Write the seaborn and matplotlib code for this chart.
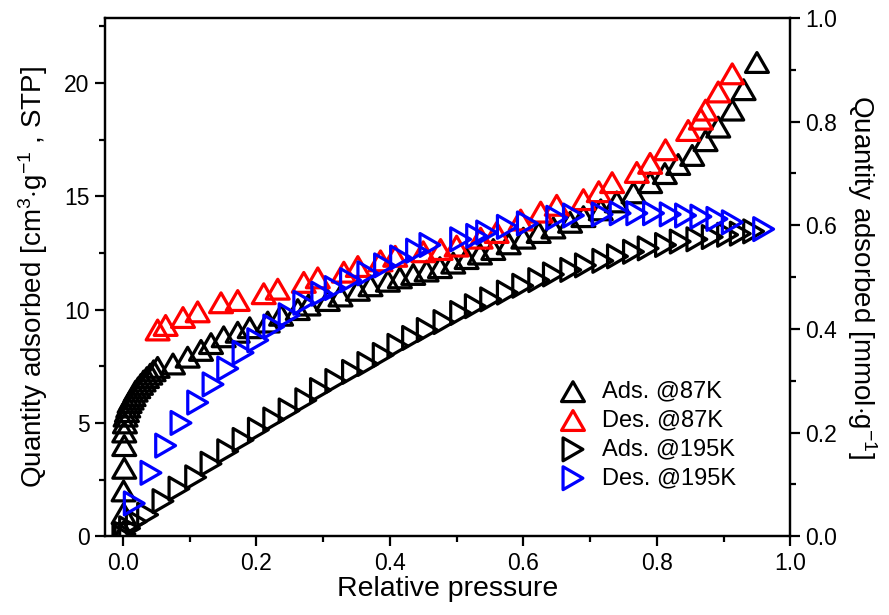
import matplotlib
matplotlib.use("Agg")
import matplotlib.pyplot as plt
from matplotlib.path import Path
from matplotlib.ticker import MultipleLocator, FormatStrFormatter
import seaborn as sns
import pandas as pd

# ---- data ----
ads87_x = [0.001, 0.001, 0.001, 0.002, 0.002, 0.002, 0.003, 0.004, 0.006, 0.008, 0.010, 0.013, 0.016,
           0.019, 0.023, 0.027, 0.031, 0.036, 0.041, 0.046, 0.052, 0.075, 0.097, 0.117, 0.132, 0.151,
           0.172, 0.190, 0.217, 0.237, 0.262, 0.278, 0.307, 0.326, 0.352, 0.371, 0.397, 0.415, 0.435,
           0.455, 0.475, 0.495, 0.515, 0.535, 0.555, 0.578, 0.600, 0.623, 0.645, 0.670, 0.690, 0.716,
           0.740, 0.765, 0.790, 0.812, 0.832, 0.853, 0.873, 0.892, 0.913, 0.930, 0.950]
ads87_y = [0.2, 1.0, 2.0, 3.0, 4.0, 4.6, 5.0, 5.3, 5.5, 5.7, 5.9, 6.05, 6.2,
           6.4, 6.55, 6.7, 6.85, 7.0, 7.15, 7.3, 7.45, 7.6, 7.9, 8.2, 8.5, 8.8,
           9.0, 9.2, 9.45, 9.75, 10.0, 10.2, 10.4, 10.6, 10.85, 11.05, 11.25, 11.4, 11.55,
           11.7, 11.85, 12.05, 12.25, 12.45, 12.65, 12.9, 13.15, 13.4, 13.6, 13.85, 14.1, 14.4,
           14.75, 15.15, 15.6, 16.0, 16.4, 16.8, 17.45, 18.05, 18.8, 19.7, 20.9]

des87_x = [0.052, 0.064, 0.090, 0.112, 0.147, 0.172, 0.211, 0.232, 0.271, 0.292, 0.331, 0.352,
           0.386, 0.408, 0.450, 0.476, 0.500, 0.536, 0.560, 0.596, 0.626, 0.650, 0.690, 0.713,
           0.733, 0.770, 0.790, 0.813, 0.847, 0.866, 0.873, 0.892, 0.913]
des87_y = [9.1, 9.3, 9.65, 9.9, 10.3, 10.4, 10.7, 10.9, 11.2, 11.4, 11.65, 11.9,
           12.15, 12.35, 12.55, 12.65, 12.8, 13.15, 13.4, 13.95, 14.3, 14.6, 14.85, 15.2,
           15.6, 16.05, 16.45, 17.05, 17.9, 18.4, 18.8, 19.6, 20.4]

ads195_x = [0.000, 0.003, 0.010, 0.020, 0.037, 0.060, 0.084, 0.109, 0.132, 0.157, 0.180, 0.203,
            0.226, 0.249, 0.274, 0.296, 0.319, 0.344, 0.367, 0.390, 0.412, 0.434, 0.456, 0.481,
            0.506, 0.528, 0.551, 0.576, 0.599, 0.623, 0.645, 0.671, 0.693, 0.719, 0.741, 0.765,
            0.787, 0.813, 0.835, 0.860, 0.883, 0.906, 0.925, 0.945]
ads195_y = [0.0, 0.1, 0.35, 0.65, 0.95, 1.55, 2.1, 2.6, 3.2, 3.75, 4.25, 4.7,
            5.15, 5.55, 6.0, 6.45, 6.85, 7.25, 7.6, 8.0, 8.4, 8.75, 9.1, 9.45,
            9.85, 10.15, 10.45, 10.75, 11.05, 11.3, 11.55, 11.75, 11.95, 12.15, 12.35, 12.55,
            12.7, 12.85, 13.0, 13.1, 13.2, 13.3, 13.35, 13.45]

des195_x = [0.017, 0.042, 0.064, 0.087, 0.112, 0.135, 0.157, 0.180, 0.202, 0.226, 0.249, 0.271,
            0.298, 0.318, 0.341, 0.367, 0.392, 0.416, 0.440, 0.460, 0.506, 0.530, 0.545, 0.576,
            0.606, 0.650, 0.675, 0.718, 0.745, 0.770, 0.795, 0.820, 0.843, 0.866, 0.890, 0.913,
            0.960]
des195_y = [1.45, 2.8, 4.0, 5.0, 5.9, 6.7, 7.4, 8.1, 8.65, 9.25, 9.75, 10.3,
            10.7, 10.95, 11.3, 11.6, 11.95, 12.3, 12.6, 12.85, 13.1, 13.25, 13.4, 13.65,
            13.8, 14.05, 14.15, 14.2, 14.25, 14.25, 14.25, 14.2, 14.15, 14.1, 14.0, 13.85,
            13.55]

labels = ["Ads. @87K", "Des. @87K", "Ads. @195K", "Des. @195K"]
x_ticks = [0.0, 0.2, 0.4, 0.6, 0.8, 1.0]
left_ticks = [0, 5, 10, 15, 20]
right_ticks = [0.0, 0.2, 0.4, 0.6, 0.8, 1.0]

# ---- style ----
sns.set_style("ticks")
plt.rcParams["font.family"] = ["Liberation Sans", "DejaVu Sans"]
plt.rcParams["mathtext.fontset"] = "custom"
plt.rcParams["mathtext.rm"] = "Liberation Sans"
plt.rcParams["mathtext.it"] = "Liberation Sans:italic"
plt.rcParams["mathtext.bf"] = "Liberation Sans:bold"
for k in ["text.color", "axes.labelcolor", "xtick.color", "ytick.color", "axes.edgecolor"]:
    plt.rcParams[k] = "black"

up_tri = Path([(-1, -0.866), (1, -0.866), (0, 0.866), (-1, -0.866)],
              [Path.MOVETO, Path.LINETO, Path.LINETO, Path.CLOSEPOLY])
right_tri = Path([(-0.866, -1), (0.866, 0), (-0.866, 1), (-0.866, -1)],
                 [Path.MOVETO, Path.LINETO, Path.LINETO, Path.CLOSEPOLY])

fig = plt.figure(figsize=(8.89, 6.15), dpi=100)
ax = fig.add_axes([0.118, 0.128, 0.771, 0.843])

series = [
    (ads87_x, ads87_y, up_tri, "black", labels[0]),
    (des87_x, des87_y, up_tri, "#ff0000", labels[1]),
    (ads195_x, ads195_y, right_tri, "black", labels[2]),
    (des195_x, des195_y, right_tri, "#0000ff", labels[3]),
]
MS = 16.5
for xs, ys, mk, col, lab in series:
    df = pd.DataFrame({"x": xs, "y": ys})
    sns.scatterplot(data=df, x="x", y="y", ax=ax, marker=mk, s=MS ** 2,
                    facecolors="none", edgecolor=col, color=col,
                    linewidth=2.3, label=lab, zorder=3)

ax.set_xlim(-0.027, 1.0)
ax.set_ylim(0, 22.87)
ax.xaxis.set_major_locator(MultipleLocator(0.2))
ax.xaxis.set_minor_locator(MultipleLocator(0.1))
ax.xaxis.set_major_formatter(FormatStrFormatter("%.1f"))
ax.yaxis.set_major_locator(MultipleLocator(5))
ax.yaxis.set_minor_locator(MultipleLocator(2.5))
ax.set_xticks(x_ticks)
ax.set_yticks(left_ticks)

for sp in ax.spines.values():
    sp.set_linewidth(1.6)
    sp.set_color("black")

ax.tick_params(axis="both", which="major", direction="out", length=7, width=1.6,
               labelsize=16.5, colors="black", pad=4)
ax.tick_params(axis="both", which="minor", direction="out", length=4, width=1.6)
ax.tick_params(top=False, which="both")

ax.set_xlabel("Relative pressure", fontsize=20.5, labelpad=1)
ax.set_ylabel(r"Quantity adsorbed [cm$^{3}$$\cdot$g$^{-1}$ , STP]", fontsize=20, labelpad=10)

ax2 = ax.twinx()
ax2.set_ylim(0, 1.0)
ax2.set_yticks(right_ticks)
ax2.yaxis.set_minor_locator(MultipleLocator(0.1))
ax2.yaxis.set_major_formatter(FormatStrFormatter("%.1f"))
ax2.tick_params(axis="y", which="major", direction="out", length=7, width=1.6,
                labelsize=16.5, pad=4, colors="black")
ax2.tick_params(axis="y", which="minor", direction="out", length=4, width=1.6)
for sp in ax2.spines.values():
    sp.set_linewidth(1.6)
    sp.set_color("black")
ax2.set_ylabel(r"Quantity adsorbed [mmol$\cdot$g$^{-1}$]", fontsize=20, rotation=270,
               labelpad=30)

leg = ax.legend(loc="upper left", bbox_to_anchor=(0.645, 0.318), frameon=False,
                fontsize=17, handletextpad=0.55, labelspacing=0.29, borderaxespad=0,
                scatterpoints=1, handlelength=1.4)

fig.savefig("out.png", dpi=100)
